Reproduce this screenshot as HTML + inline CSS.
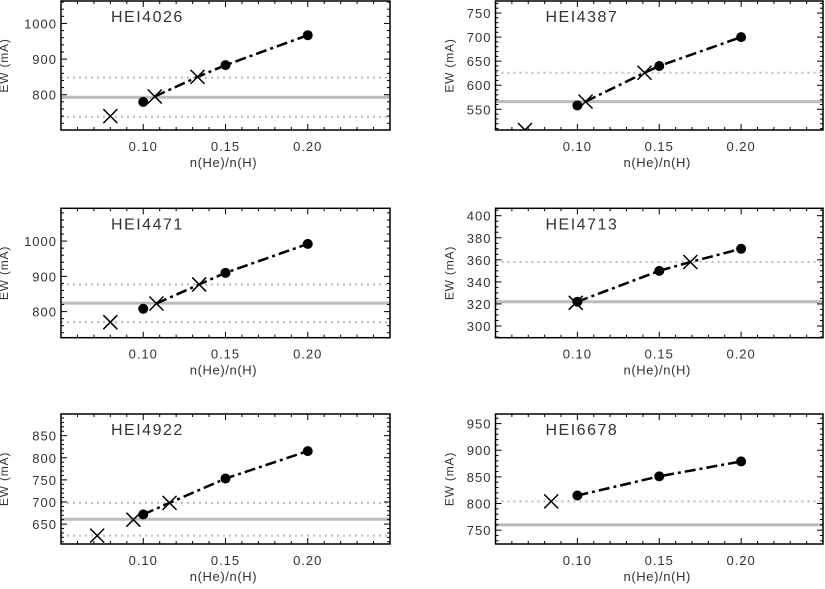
<!DOCTYPE html>
<html><head><meta charset="utf-8"><style>
body{margin:0;background:#fff;}
svg text{font-family:"Liberation Sans","DejaVu Sans",sans-serif;fill:#333;}
</style></head><body>
<svg id="c" width="825" height="584" viewBox="0 0 825 584"></svg>
<script>
const panelNames=["HEI4026","HEI4387","HEI4471","HEI4713","HEI4922","HEI6678"];
const dotX=[[0.10,0.15,0.20],[0.10,0.15,0.20],[0.10,0.15,0.20],[0.10,0.15,0.20],[0.10,0.15,0.20],[0.10,0.15,0.20]];
const dotY=[[780,883,967],[558,640,700],[808,910,992],[322,350,370],[672,753,815],[815,851,879]];
const crossX=[[0.080,0.107,0.133],[0.068,0.105,0.141],[0.080,0.108,0.134],[0.099,0.169],[0.072,0.094,0.116],[0.084]];
const crossY=[[740,795,850],[507,566,626],[770,823,877],[321,358],[624,660,698],[804]];
const lineX=[[0.107,0.133,0.15,0.20],[0.105,0.141,0.15,0.20],[0.108,0.134,0.15,0.20],[0.10,0.15,0.169,0.20],[0.10,0.116,0.15,0.20],[0.10,0.15,0.20]];
const lineY=[[795,850,883,967],[566,626,640,700],[823,877,910,992],[322,350,358,370],[672,698,753,815],[815,851,879]];
const solidLevel=[793,566,824,322,661,760];
const dottedLevels=[[848,738],[626,507],[877,770],[358],[698,624],[804]];
const yMin=[701,507,726,289.4,605,724];
const yMax=[1063,775,1093,406.7,899,968];
const yTicks=[[800,900,1000],[550,600,650,700,750],[800,900,1000],[300,320,340,360,380,400],[650,700,750,800,850],[750,800,850,900,950]];
const yMinorStep=[20,10,20,5,10,10];
const xTicks=[0.10,0.15,0.20];
const xTickLabels=["0.10","0.15","0.20"];
const xMin=0.05,xMax=0.25;

const svg=document.getElementById('c');
const NS='http://www.w3.org/2000/svg';
function mk(tag,attrs,parent){const e=document.createElementNS(NS,tag);for(const k in attrs)e.setAttribute(k,attrs[k]);(parent||svg).appendChild(e);return e;}
const boxes=[[61,1,390,130],[495.5,1,823,130],[61,208.3,390,337.7],[495.5,208.3,823,337.7],[61,414,390,544],[495.5,414,823,544]];

panelNames.forEach((nm,i)=>{
  const [L,T,R,B]=boxes[i];
  const g=mk('g',{});
  
  
  const sx=v=>L+(v-xMin)/(xMax-xMin)*(R-L);
  const sy=v=>B-(v-yMin[i])/(yMax[i]-yMin[i])*(B-T);
  const clipId='clip'+i;
  const cp=mk('clipPath',{id:clipId},g);mk('rect',{x:L,y:T,width:R-L,height:B-T},cp);
  const inner=mk('g',{'clip-path':'url(#'+clipId+')'},g);
  const sl=mk('line',{x1:L,x2:R,y1:sy(solidLevel[i]),y2:sy(solidLevel[i]),stroke:'#bbb','stroke-width':3},inner);
  
  
  dottedLevels[i].forEach(v=>{
    const d=mk('line',{x1:L,x2:R,y1:sy(v),y2:sy(v),stroke:'#bbb','stroke-width':2,'stroke-dasharray':'2,4'},inner);
    
    
  });
  const pts=lineX[i].map((x,k)=>sx(x)+','+sy(lineY[i][k])).join(' ');
  const pl=mk('polyline',{points:pts,fill:'none',stroke:'#000','stroke-width':2.5,'stroke-dasharray':'11,4,3,4'},inner);
  
  
  dotX[i].forEach((x,k)=>{
    const c=mk('circle',{cx:sx(x),cy:sy(dotY[i][k]),r:5,fill:'#000'},inner);
    
    
  });
  crossX[i].forEach((x,k)=>{
    const cx=sx(x),cy=sy(crossY[i][k]),s=7;
    const p=mk('path',{d:`M${cx-s},${cy-s}L${cx+s},${cy+s}M${cx-s},${cy+s}L${cx+s},${cy-s}`,stroke:'#000','stroke-width':1.5,fill:'none'},inner);
    
    
  });
  mk('rect',{x:L,y:T,width:R-L,height:B-T,fill:'none',stroke:'#000','stroke-width':1.5},g);
  for(let v=0.06;v<0.2501;v+=0.01){
    const vv=Math.round(v*100)/100,X=sx(vv);
    const major=xTicks.includes(vv);const len=major?6:3;
    mk('line',{x1:X,x2:X,y1:B,y2:B-len,stroke:'#000'},g);
    mk('line',{x1:X,x2:X,y1:T,y2:T+len,stroke:'#000'},g);
  }
  xTicks.forEach((v,k)=>{
    const t=mk('text',{x:sx(v),y:B+21,'text-anchor':'middle','font-size':13,'letter-spacing':1},g);
    t.textContent=xTickLabels[k];
    
    
  });
  const xl=mk('text',{x:(L+R)/2-2,y:B+37,'text-anchor':'middle','font-size':13,'letter-spacing':0.6},g);
  xl.textContent='n(He)/n(H)';
  
  
  const st=yMinorStep[i];
  for(let v=Math.ceil(yMin[i]/st)*st;v<=yMax[i];v+=st){
    const Y=sy(v);const major=yTicks[i].includes(v);const len=major?6:3;
    mk('line',{x1:L,x2:L+len,y1:Y,y2:Y,stroke:'#000'},g);
    mk('line',{x1:R,x2:R-len,y1:Y,y2:Y,stroke:'#000'},g);
  }
  yTicks[i].forEach(v=>{
    const t=mk('text',{x:L-4,y:sy(v)+5,'text-anchor':'end','font-size':13,'letter-spacing':1},g);
    t.textContent=String(v);
    
    
  });
  const yx=L-(i%2===0?53:42),yc=(T+B)/2;
  const yl=mk('text',{x:yx,y:yc,'text-anchor':'middle','font-size':12,'letter-spacing':0.8,transform:`rotate(-90 ${yx} ${yc})`},g);
  yl.textContent='EW  (mA)';
  
  
  const tt=mk('text',{x:L+50,y:T+21,'font-size':16,'letter-spacing':1.5,fill:'#444'},g);
  tt.textContent=nm;
  
  
});
</script>
</body></html>
